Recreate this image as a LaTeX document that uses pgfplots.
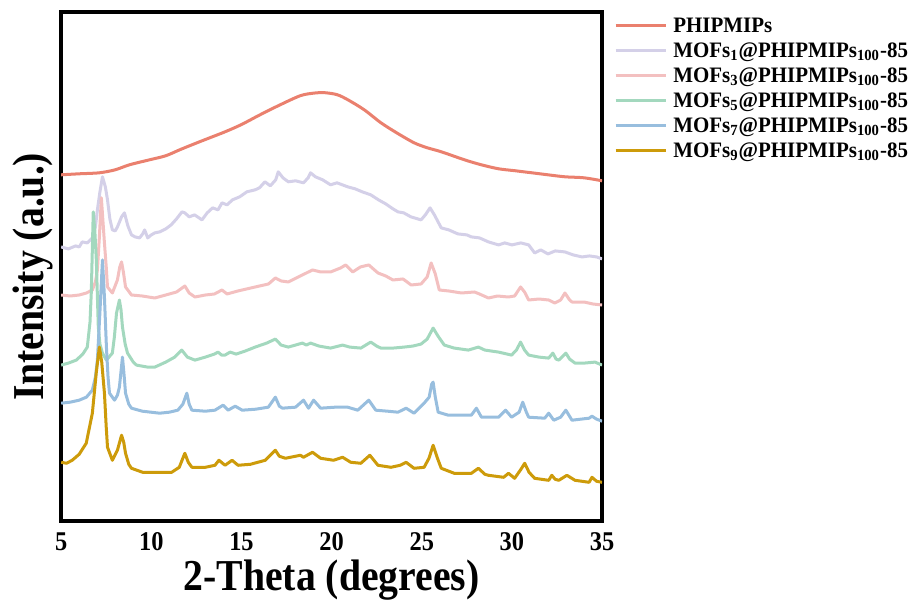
\documentclass[border=0pt]{standalone}
\usepackage{fontspec}
\setmainfont{Liberation Serif}
\newfontfamily\narrowfont{Liberation Serif}[FakeStretch=0.9]
\newfontfamily\legfont{Liberation Serif}[FakeStretch=0.95]
\usepackage{pgfplots}
\pgfplotsset{compat=1.18}
\definecolor{cred}{RGB}{234,128,110}
\definecolor{clav}{RGB}{212,208,232}
\definecolor{cpink}{RGB}{243,192,192}
\definecolor{cgreen}{RGB}{163,216,190}
\definecolor{cblue}{RGB}{152,190,222}
\definecolor{cgold}{RGB}{205,155,10}
\begin{document}
\begin{tikzpicture}
\begin{axis}[
  scale only axis, width=269.75pt, height=254pt,
  xmin=5, xmax=35, ymin=1, ymax=509.5,
  xtick={5,10,15,20,25,30,35}, ytick=\empty,
  major tick length=0pt,
  axis line style={line width=2pt},
  /pgf/number format/assume math mode=true,
  xticklabel style={font=\narrowfont\bfseries\fontsize{13.5}{13.5}\selectfont, inner sep=0pt, anchor=north, yshift=-5.5pt},
  xlabel={2-Theta (degrees)},
  xlabel style={font=\narrowfont\bfseries\fontsize{22}{22}\selectfont, at={(axis description cs:0.5,0)}, anchor=base, yshift=-34.5pt, inner sep=0pt},
  ylabel={Intensity (a.u.)},
  ylabel style={font=\narrowfont\bfseries\fontsize{22}{22}\selectfont, at={(axis description cs:-0.0324,0.48)}, anchor=base, inner sep=0pt},
  legend style={at={(1,1)}, anchor=north west, xshift=6pt, yshift=-1.5pt, draw=none, fill=none, inner sep=0pt, outer sep=0pt, row sep=0pt, column sep=3pt, font=\legfont\bfseries\fontsize{11}{11}\selectfont, nodes={inner sep=0pt, text height=8.5pt, text depth=4pt}},
  legend cell align=left,
  legend image code/.code={\draw[#1, line width=1.5pt] (0pt,0.1em) -- (25pt,0.1em);},
  every axis plot/.append style={line width=1.5pt, line join=round, no markers},
]
\addplot[cred, smooth] coordinates {
(5.0,347)(6.0,348)(7.12,349)(8.0,352)(8.79,357)(9.91,362)(10.8,366)(11.58,372)(12.4,378)(13.25,384)(14.1,390)(14.98,397)(16.04,407)(17.16,417)(18.27,426)(19.0,428.5)(19.6,429)(20.3,427)(20.89,422)(21.8,412)(22.73,399)(23.6,389)(24.57,379)(25.3,374)(26.08,370)(27.36,362)(28.3,357)(29.26,353)(30.2,351)(31.10,349)(32.0,347)(32.94,345)(34.0,344)(35.0,341)};
\addlegendentry{PHIPMIPs}
\addplot[clav] coordinates {
(5.0,275)(5.4,273)(5.8,276)(6.0,275)(6.17,280)(6.45,279)(6.73,284)(6.9,295)(7.01,312)(7.15,330)(7.29,345)(7.45,335)(7.57,322)(7.7,303)(7.84,292)(8.0,291)(8.12,295)(8.35,305)(8.51,309)(8.7,296)(8.90,287)(9.1,285)(9.35,284)(9.52,288)(9.63,292)(9.80,284)(10.0,287)(10.19,289)(10.46,290)(10.8,293)(11.1,297)(11.4,303)(11.7,310)(11.86,309)(12.1,305)(12.4,307)(12.81,302)(13.1,309)(13.4,314)(13.7,312)(13.92,319)(14.2,317)(14.5,322)(14.9,325)(15.3,330)(15.76,332)(16.0,334)(16.3,340)(16.6,336)(16.9,342)(17.04,350)(17.3,344)(17.60,340)(18.0,341)(18.44,339)(18.7,344)(18.83,349)(19.1,345)(19.5,342)(19.94,337)(20.3,339)(20.89,335)(21.3,333)(21.7,330)(22.17,327)(22.6,322)(23.0,318)(23.4,313)(23.68,310)(24.0,309)(24.4,305)(24.96,302)(25.2,307)(25.46,314)(25.7,307)(26.08,294)(26.5,292)(27.0,288)(27.5,287)(27.75,285)(28.2,284)(28.7,280)(29.26,277)(29.6,279)(30.0,277)(30.5,279)(30.93,277)(31.26,269)(31.6,272)(32.0,268)(32.4,271)(32.94,270)(33.4,267)(33.89,265)(34.3,266)(34.7,265)(35.0,263)};
\addlegendentry{MOFs\textsubscript{1}@PHIPMIPs\textsubscript{100}-85}
\addplot[cpink] coordinates {
(5.0,227)(5.5,226)(6.0,227)(6.4,229)(6.73,232)(6.9,240)(7.01,252)(7.12,285)(7.23,324)(7.32,300)(7.40,279)(7.5,255)(7.57,235)(7.84,229)(8.12,242)(8.25,255)(8.35,260)(8.45,250)(8.57,235)(8.90,227)(9.5,226)(10.19,224)(10.8,227)(11.4,230)(11.86,236)(12.1,229)(12.42,225)(13.0,227)(13.5,228)(13.92,232)(14.2,228)(14.8,231)(15.76,235)(16.5,238)(16.88,244)(17.2,241)(17.60,240)(18.38,247)(18.94,252)(19.4,250)(19.94,250)(20.5,254)(20.78,257)(21.17,250)(21.6,255)(22.06,257)(22.57,249)(23.0,246)(23.40,242)(23.96,243)(24.41,237)(24.96,238)(25.3,245)(25.52,259)(25.75,248)(25.97,232)(26.5,231)(27.2,229)(27.92,230)(28.2,228)(28.70,224)(29.2,226)(29.8,225)(30.15,226)(30.48,235)(30.7,230)(30.93,222)(31.5,223)(32.04,222)(32.38,219)(32.7,222)(32.94,229)(33.2,222)(33.33,220)(34.0,220)(34.5,218)(35.0,217)};
\addlegendentry{MOFs\textsubscript{3}@PHIPMIPs\textsubscript{100}-85}
\addplot[cgreen] coordinates {
(5.0,157)(5.4,159)(5.84,162)(6.2,168)(6.45,175)(6.6,200)(6.67,229)(6.78,310)(6.87,290)(6.95,262)(7.06,195)(7.15,178)(7.29,169)(7.51,162)(7.84,169)(7.95,185)(8.07,209)(8.23,222)(8.32,212)(8.40,195)(8.55,178)(8.68,169)(9.0,160)(9.18,157)(9.8,155)(10.19,155)(10.8,160)(11.3,165)(11.69,172)(12.0,165)(12.42,162)(13.0,165)(13.5,168)(13.70,170)(13.9,167)(14.09,167)(14.37,170)(14.7,168)(15.2,171)(15.76,175)(16.4,179)(16.88,183)(17.2,177)(17.60,175)(18.38,179)(18.6,177)(18.83,179)(19.3,176)(19.94,174)(20.61,177)(21.0,175)(21.62,174)(22.17,180)(22.5,176)(22.73,174)(23.4,174)(24.02,175)(24.5,176)(24.96,178)(25.3,183)(25.63,194)(25.9,186)(26.25,177)(26.8,174)(27.58,172)(28.14,175)(28.5,172)(29.26,170)(29.98,167)(30.25,172)(30.48,180)(30.7,172)(30.93,167)(31.5,165)(32.04,164)(32.27,169)(32.45,163)(32.60,162)(32.99,169)(33.2,163)(33.50,159)(34.0,159)(34.61,160)(35.0,157)};
\addlegendentry{MOFs\textsubscript{5}@PHIPMIPs\textsubscript{100}-85}
\addplot[cblue] coordinates {
(5.0,119)(5.5,120)(6.00,122)(6.4,125)(6.73,132)(6.9,145)(7.01,162)(7.15,210)(7.29,262)(7.40,225)(7.51,175)(7.60,145)(7.68,129)(7.96,122)(8.12,127)(8.23,135)(8.40,165)(8.50,145)(8.57,129)(8.75,118)(8.90,114)(9.5,111)(10.46,109)(11.0,110)(11.47,112)(11.75,118)(11.97,129)(12.1,118)(12.25,112)(13.0,111)(13.53,112)(13.98,117)(14.26,112)(14.65,116)(15.04,112)(15.8,113)(16.49,115)(16.88,125)(17.1,116)(17.27,114)(18.0,115)(18.44,122)(18.72,114)(19.00,122)(19.39,114)(20.2,115)(20.89,115)(21.45,112)(22.06,122)(22.45,112)(23.1,111)(23.68,110)(24.13,114)(24.57,109)(25.13,119)(25.41,125)(25.55,138)(25.63,140)(25.75,125)(25.91,110)(26.47,107)(27.2,107)(27.75,107)(28.03,114)(28.31,105)(29.26,105)(29.65,112)(29.98,105)(30.4,110)(30.60,120)(30.8,110)(30.93,105)(31.82,104)(32.04,109)(32.32,102)(32.7,105)(32.99,112)(33.33,102)(33.8,103)(34.28,104)(34.44,106)(34.7,103)(35.0,101)};
\addlegendentry{MOFs\textsubscript{7}@PHIPMIPs\textsubscript{100}-85}
\addplot[cgold] coordinates {
(5.0,60)(5.3,59)(5.61,62)(6.0,68)(6.39,79)(6.73,109)(6.95,150)(7.12,175)(7.25,160)(7.40,129)(7.50,95)(7.57,75)(7.84,62)(8.12,72)(8.35,87)(8.47,80)(8.57,69)(8.75,58)(8.90,54)(9.52,50)(10.46,50)(11.13,50)(11.55,55)(11.86,69)(12.05,60)(12.25,55)(13.0,55)(13.53,57)(13.75,62)(14.09,57)(14.48,62)(14.81,57)(15.5,58)(16.32,62)(16.88,72)(17.1,66)(17.44,64)(18.27,67)(18.44,65)(18.94,70)(19.39,64)(20.11,62)(20.61,65)(21.06,60)(21.62,59)(22.12,67)(22.57,57)(23.29,55)(23.8,57)(24.13,60)(24.57,54)(25.13,55)(25.4,64)(25.63,77)(25.85,65)(26.08,54)(26.80,49)(27.75,49)(28.14,54)(28.50,48)(28.70,47)(29.54,45)(29.81,49)(30.15,44)(30.5,53)(30.71,59)(30.95,50)(31.26,44)(32.04,42)(32.21,47)(32.40,43)(32.60,42)(33.05,47)(33.50,42)(34.28,40)(34.44,45)(34.7,41)(35.0,40)};
\addlegendentry{MOFs\textsubscript{9}@PHIPMIPs\textsubscript{100}-85}
\end{axis}
\path ([xshift=-6.5pt]current bounding box.west);
\path ([yshift=5pt]current bounding box.north);
\end{tikzpicture}
\end{document}
